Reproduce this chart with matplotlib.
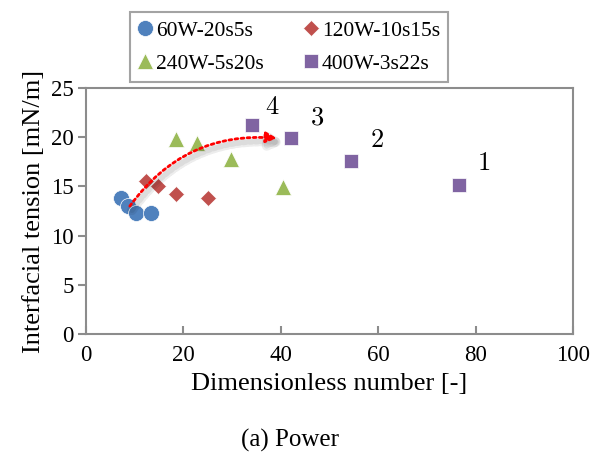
import matplotlib
matplotlib.use("Agg")
import matplotlib.pyplot as plt
from matplotlib.patches import FancyArrowPatch
import matplotlib.patheffects as pe

plt.rcParams['font.family'] = ['Liberation Serif', 'DejaVu Serif']
plt.rcParams['mathtext.fontset'] = 'cm'

series_names = ["60W-20s5s", "120W-10s15s", "240W-5s20s", "400W-3s22s"]
x_60 = [7.2, 8.6, 10.3, 13.3]
y_60 = [13.8, 13.0, 12.3, 12.3]
x_120 = [12.3, 14.8, 18.5, 25.0]
y_120 = [15.5, 15.0, 14.2, 13.8]
x_240 = [18.5, 22.8, 29.8, 40.4]
y_240 = [19.8, 19.4, 17.8, 14.9]
x_400 = [34.1, 42.1, 54.4, 76.6]
y_400 = [21.2, 19.9, 17.6, 15.1]
point_labels = ["4", "3", "2", "1"]
label_x = [38.2, 47.4, 59.8, 81.7]
label_y = [23.0, 21.9, 19.6, 17.3]
arrow_start = (9.0, 13.0)
arrow_end = (39.2, 19.9)

colors = ["#4F81BD", "#C0504D", "#9BBB59", "#8064A2"]
markers = ["o", "D", "^", "s"]
sizes = [11.5, 8.5, 11, 10.5]

fig = plt.figure(figsize=(5.94, 4.57), dpi=100)
ax = fig.add_axes([0.1448, 0.2691, 0.8198, 0.5383])

xs = [x_60, x_120, x_240, x_400]
ys = [y_60, y_120, y_240, y_400]
handles = []
for xv, yv, c, m, s, n in zip(xs, ys, colors, markers, sizes, series_names):
    h, = ax.plot(xv, yv, linestyle='none', marker=m, color=c, markersize=s,
                 markeredgecolor='white', markeredgewidth=0.5, label=n, zorder=3)
    handles.append(h)

for lx, ly, t in zip(label_x, label_y, point_labels):
    ax.text(lx, ly, "$%s$" % t, fontsize=19, ha='center', va='center')

arr = FancyArrowPatch(arrow_start, arrow_end, connectionstyle="arc3,rad=-0.28",
                      arrowstyle='-|>', mutation_scale=16, color='red',
                      shrinkA=0, shrinkB=0,
                      linestyle=(0, (1, 1.2)), linewidth=2, zorder=4,
                      path_effects=[pe.SimpleLineShadow(offset=(1.5, -3), alpha=0.07,
                                                        shadow_color='black', linewidth=7),
                                    pe.SimpleLineShadow(offset=(1.5, -3), alpha=0.07,
                                                        shadow_color='black', linewidth=4),
                                    pe.Normal()])
ax.add_patch(arr)

ax.set_xlim(0, 100)
ax.set_ylim(0, 25)
ax.set_xticks([0, 20, 40, 60, 80, 100])
ax.set_yticks([0, 5, 10, 15, 20, 25])
for sp in ax.spines.values():
    sp.set_color('#8c8c8c')
    sp.set_linewidth(1.5)
ax.tick_params(axis='y', direction='out', length=6, width=1.5, color='#8c8c8c',
               labelsize=16.5, pad=3)
ax.tick_params(axis='x', direction='in', length=6, width=1.5, color='#8c8c8c',
               labelsize=16.5, pad=8)
ax.set_xlabel("Dimensionless number [-]", fontsize=19, labelpad=5)
ax.set_ylabel("Interfacial tension [mN/m]", fontsize=19, labelpad=4)

order = [0, 2, 1, 3]
leg = fig.legend(handles=[handles[i] for i in order], ncol=2, loc='upper left',
                 bbox_to_anchor=(130 / 594, 1 - 12 / 457), borderaxespad=0,
                 fontsize=15.5,
                 frameon=True, fancybox=False, edgecolor='#8c8c8c',
                 handlelength=0.6, handletextpad=0.2, columnspacing=1.9,
                 borderpad=0.4, labelspacing=0.6)
leg.get_frame().set_linewidth(1.5)

fig.text(290 / 594, 1 - 440 / 457, "(a) Power", fontsize=18, ha='center', va='center')

fig.savefig("out.png", dpi=100)
